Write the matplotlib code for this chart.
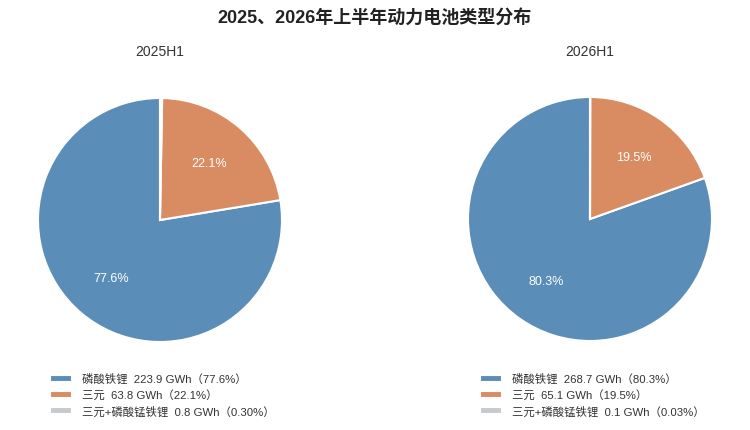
import matplotlib
matplotlib.use("Agg")
import matplotlib.pyplot as plt
import numpy as np

plt.rcParams['font.family'] = ['Liberation Sans', 'Noto Sans CJK SC', 'DejaVu Sans']

title = "2025、2026年上半年动力电池类型分布"
periods = ["2025H1", "2026H1"]
categories = ["磷酸铁锂", "三元", "三元+磷酸锰铁锂"]
values_2025 = [223.9, 63.8, 0.8]
values_2026 = [268.7, 65.1, 0.1]
pct_2025 = ["77.6%", "22.1%", "0.30%"]
pct_2026 = ["80.3%", "19.5%", "0.03%"]
inner_2025 = ["77.6%", "22.1%", ""]
inner_2026 = ["80.3%", "19.5%", ""]
colors = ["#5b8db9", "#d98b62", "#c6cace"]

W, H = 750, 431
fig = plt.figure(figsize=(W / 100, H / 100), dpi=100)

fig.text(0.5, 1 - 18 / H, title, ha='center', va='center', fontsize=13,
         fontweight='bold', color='#222222')

centers = [(160, 221), (590, 220)]
R = 122
datasets = [(values_2025, pct_2025, inner_2025), (values_2026, pct_2026, inner_2026)]

for (cx, cy), period, (vals, pcts, inner) in zip(centers, periods, datasets):
    ax = fig.add_axes([(cx - R) / W, (H - cy - R) / H, 2 * R / W, 2 * R / H])
    wedges, _ = ax.pie(vals, colors=colors, startangle=90, counterclock=True,
                       wedgeprops=dict(edgecolor='white', linewidth=1.5))
    ax.set_xlim(-1, 1)
    ax.set_ylim(-1, 1)
    ax.set_aspect('equal')
    ax.axis('off')
    for w, lab in zip(wedges, inner):
        if not lab:
            continue
        ang = np.deg2rad((w.theta1 + w.theta2) / 2)
        ax.text(0.62 * np.cos(ang), 0.62 * np.sin(ang), lab, ha='center', va='center',
                color='white', fontsize=9)
    fig.text(cx / W, 1 - 52 / H, period, ha='center', va='center', fontsize=10,
             color='#333333')
    labels = [f"{c}  {v} GWh（{p}）" for c, v, p in zip(categories, vals, pcts)]
    fig.legend(wedges, labels, loc='upper left',
               bbox_to_anchor=((cx - 110) / W, 1 - 374 / H),
               frameon=False, fontsize=8.2, handlelength=1.9, handleheight=0.6,
               handletextpad=0.9, labelspacing=0.45, borderpad=0, borderaxespad=0,
               labelcolor='#333333')

fig.savefig("out.png", dpi=100, facecolor='white')
